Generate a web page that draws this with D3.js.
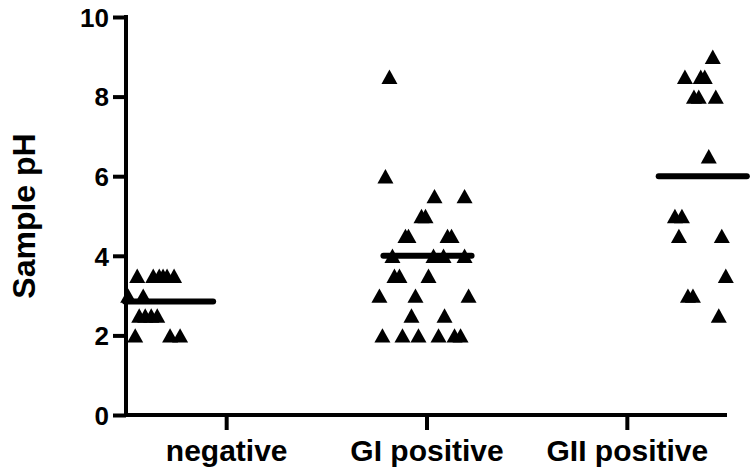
<!DOCTYPE html>
<html>
<head>
<meta charset="utf-8">
<script src="https://cdn.jsdelivr.net/npm/d3@7"></script>
<style>
  html, body { margin: 0; padding: 0; background: #fff; }
  svg { display: block; }
  text { font-family: "Liberation Sans", Arial, sans-serif; font-weight: bold; fill: #000; }
</style>
</head>
<body>
<svg id="chart" width="751" height="469"></svg>
<script>
// ---- data ----
const categories = ["negative", "GI positive", "GII positive"];
const yTicks = [0, 2, 4, 6, 8, 10];
const yTitle = "Sample pH";

// pH values per group
const negativeValues = [3.5, 3.5, 3.5, 3.5, 3.5, 3.5, 3.0, 3.0, 2.5, 2.5, 2.5, 2.5, 2.0, 2.0, 2.0];
const giValues = [8.5, 6.0, 5.5, 5.5, 5.0, 5.0, 4.5, 4.5, 4.5, 4.5, 4.0, 4.0, 4.0, 4.0,
                  3.5, 3.5, 3.5, 3.0, 3.0, 3.0, 2.5, 2.5, 2.0, 2.0, 2.0, 2.0, 2.0, 2.0];
const giiValues = [9.0, 8.5, 8.5, 8.5, 8.0, 8.0, 8.0, 6.5, 5.0, 5.0, 4.5, 4.5, 3.5, 3.0, 3.0, 2.5];

// horizontal scatter (jitter) of each point, in category units relative to its column
const negativeJitter = [-0.444, -0.364, -0.334, -0.315, -0.295, -0.260, -0.489, -0.414,
                        -0.434, -0.404, -0.374, -0.344, -0.454, -0.280, -0.230];
const giJitter = [-0.185, -0.205, 0.040, 0.190, -0.025, -0.005, -0.105, -0.090, 0.105, 0.125,
                  -0.170, 0.035, 0.085, 0.190, -0.160, -0.135, 0.010, -0.235, -0.055, 0.210,
                  -0.075, 0.090, -0.220, -0.120, -0.040, 0.060, 0.140, 0.170];
const giiJitter = [0.429, 0.290, 0.369, 0.389, 0.335, 0.359, 0.444, 0.409, 0.240, 0.275,
                   0.260, 0.474, 0.494, 0.305, 0.330, 0.459];

// group mean lines and their column offset
const meanValues = [2.85, 4.0, 6.0];
const meanOffsets = [-0.285, 0.005, 0.379];

// ---- build ----
const groups = [
  { values: negativeValues, jitter: negativeJitter },
  { values: giValues, jitter: giJitter },
  { values: giiValues, jitter: giiJitter }
];

const svg = d3.select("#chart");
const x = d3.scaleLinear().domain([-0.5, categories.length - 0.5]).range([126, 727]);
const y = d3.scaleLinear().domain([0, 10]).range([415, 17]);

// y axis
const yAxis = d3.axisLeft(y).tickValues(yTicks).tickSize(13).tickPadding(4).tickFormat(d3.format("d"));
const gy = svg.append("g").attr("transform", `translate(${x.range()[0]},0)`).call(yAxis);
gy.select(".domain").attr("d", `M0,${y(10) - 2}V${y(0) + 2}`).attr("stroke", "#000").attr("stroke-width", 4);
gy.selectAll(".tick line").attr("stroke", "#000").attr("stroke-width", 4);
gy.selectAll(".tick text").style("font-size", "26px").attr("dy", "0.36em");

// x axis
const xAxis = d3.axisBottom(x).tickValues(d3.range(categories.length))
  .tickFormat(i => categories[i]).tickSize(15).tickPadding(10);
const gx = svg.append("g").attr("transform", `translate(0,${y(0)})`).call(xAxis);
gx.select(".domain").attr("d", `M${x.range()[0] - 2},0H${x.range()[1]}`).attr("stroke", "#000").attr("stroke-width", 4);
gx.selectAll(".tick line").attr("stroke", "#000").attr("stroke-width", 4);
gx.selectAll(".tick text").style("font-size", "30px");

// y title
svg.append("text")
  .attr("transform", `translate(35,${(y(0) + y(10)) / 2}) rotate(-90)`)
  .attr("text-anchor", "middle")
  .style("font-size", "32px")
  .text(yTitle);

// triangle symbol centered on its bounding box
const tri = {
  draw(ctx, size) {
    const w = Math.sqrt(size), h = w * 0.9;
    ctx.moveTo(0, -h / 2);
    ctx.lineTo(w / 2, h / 2);
    ctx.lineTo(-w / 2, h / 2);
    ctx.closePath();
  }
};
const sym = d3.symbol().type(tri).size(16 * 16);

const pts = [];
groups.forEach((g, gi) => g.values.forEach((v, i) => pts.push({ c: gi, v, j: g.jitter[i] })));

svg.append("g").selectAll("path").data(pts).join("path")
  .attr("d", sym)
  .attr("transform", d => `translate(${x(d.c + d.j)},${y(d.v)})`)
  .attr("fill", "#000");

// mean lines
const half = 0.22;
svg.append("g").selectAll("line").data(meanValues).join("line")
  .attr("x1", (m, i) => x(i + meanOffsets[i] - half))
  .attr("x2", (m, i) => x(i + meanOffsets[i] + half))
  .attr("y1", m => y(m)).attr("y2", m => y(m))
  .attr("stroke", "#000").attr("stroke-width", 6).attr("stroke-linecap", "round");
</script>
</body>
</html>
